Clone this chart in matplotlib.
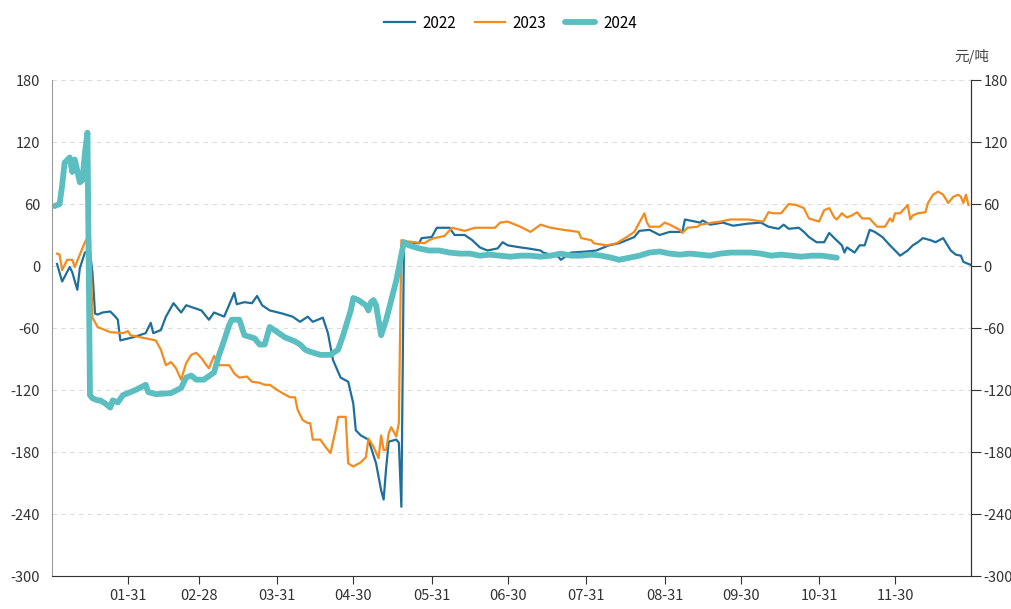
import matplotlib
matplotlib.use("Agg")
import matplotlib.pyplot as plt

plt.rcParams['font.family'] = ['Noto Sans CJK SC', 'DejaVu Sans']
plt.rcParams['axes.unicode_minus'] = False

# day of year -> spread value (元/吨)
day_2022 = [3, 5, 8, 9, 11, 12, 14, 16, 17, 18, 19, 21, 24, 26, 27, 28, 33, 38, 40, 41,
            44, 46, 49, 52, 54, 60, 63, 65, 69, 73, 74, 77, 80, 82, 84, 87, 92, 96, 99, 102,
            104, 108, 110, 112, 115, 118, 120, 121, 123, 126, 129, 131, 132, 133, 134, 137, 138, 139, 140, 141,
            146, 147, 151, 153, 158, 160, 164, 167, 170, 173, 177, 179, 181, 186, 189, 194, 195, 201, 202, 206,
            212, 216, 221, 225, 231, 233, 237, 241, 245, 250, 251, 255, 257, 258, 261, 266, 270, 276, 281, 284,
            288, 290, 292, 296, 298, 300, 303, 306, 308, 310, 313, 314, 315, 318, 320, 322, 324, 326, 329, 332,
            336, 339, 341, 343, 345, 348, 350, 353, 356, 358, 360, 361, 364]
val_2022 = [2, -15, -1, -6, -23, -2, 13, 14, -7, -46, -47, -45, -44, -49, -52, -72, -69, -65, -55, -65,
            -62, -49, -36, -45, -38, -43, -52, -45, -49, -26, -37, -35, -36, -29, -38, -43, -46, -49, -54, -49,
            -54, -50, -65, -91, -108, -112, -133, -159, -164, -168, -191, -217, -226, -195, -170, -168, -171, -233, 20, 23,
            22, 27, 28, 37, 37, 30, 30, 25, 18, 15, 17, 23, 20, 18, 17, 15, 13, 9, 6, 13,
            14, 15, 20, 22, 28, 34, 35, 30, 33, 33, 45, 43, 42, 44, 40, 42, 39, 41, 42, 38,
            36, 40, 36, 37, 33, 28, 23, 23, 32, 27, 20, 13, 18, 13, 20, 20, 35, 33, 28, 20,
            10, 15, 20, 23, 27, 25, 23, 27, 15, 11, 10, 4, 1]

day_2023 = [3, 4, 5, 7, 9, 10, 13, 14, 15, 16, 17, 19, 24, 29, 31, 32, 36, 42, 44, 46,
            48, 50, 52, 54, 56, 58, 60, 62, 63, 65, 67, 71, 73, 75, 78, 80, 83, 85, 87, 90,
            92, 95, 97, 98, 100, 102, 103, 104, 107, 109, 111, 113, 114, 117, 118, 120, 123, 125, 126, 128,
            130, 131, 132, 133, 134, 135, 137, 138, 139, 141, 144, 148, 150, 152, 156, 159, 164, 168, 172, 176,
            178, 181, 184, 186, 190, 194, 198, 203, 209, 210, 214, 215, 220, 224, 228, 231, 233, 235, 236, 237,
            241, 243, 245, 249, 250, 252, 256, 257, 262, 265, 269, 276, 282, 284, 286, 289, 292, 295, 298, 300,
            304, 306, 308, 310, 311, 313, 315, 317, 319, 321, 324, 325, 327, 330, 332, 333, 334, 336, 339, 340,
            341, 343, 346, 347, 349, 351, 353, 355, 357, 359, 360, 361, 362, 363]
val_2023 = [12, 11, -4, 6, 6, -1, 17, 23, 27, 28, -50, -59, -64, -65, -63, -67, -69, -72, -81, -96,
            -93, -99, -110, -94, -86, -84, -89, -96, -99, -87, -96, -96, -104, -108, -107, -112, -113, -115, -115, -120,
            -123, -127, -127, -139, -149, -152, -152, -168, -168, -175, -181, -159, -146, -146, -191, -194, -190, -185, -167, -175,
            -186, -164, -178, -178, -162, -156, -165, -152, 25, 24, 23, 22, 25, 27, 29, 37, 34, 37, 37, 37,
            42, 43, 40, 38, 33, 40, 37, 35, 33, 27, 25, 22, 20, 22, 28, 33, 42, 51, 42, 38,
            38, 42, 40, 35, 32, 37, 38, 40, 42, 43, 45, 45, 43, 52, 51, 51, 60, 59, 56, 46,
            43, 54, 56, 47, 45, 51, 47, 49, 52, 46, 46, 43, 38, 38, 46, 43, 51, 51, 59, 45,
            49, 51, 52, 61, 69, 72, 69, 61, 67, 69, 67, 61, 69, 59]

day_2024 = [2, 4, 5, 6, 8, 9, 10, 12, 13, 14, 15, 16, 17, 19, 20, 22, 24, 25, 27, 29,
            32, 34, 38, 39, 42, 48, 52, 54, 56, 58, 61, 65, 67, 69, 71, 72, 75, 77, 81, 83,
            85, 87, 90, 93, 97, 99, 101, 103, 107, 111, 114, 116, 119, 120, 122, 125, 126, 127, 128, 129,
            131, 133, 135, 137, 139, 140, 142, 146, 150, 154, 158, 162, 166, 170, 174, 178, 182, 186, 190, 194,
            198, 202, 206, 210, 214, 218, 222, 225, 229, 233, 237, 241, 245, 249, 253, 257, 261, 265, 269, 273,
            277, 281, 285, 289, 293, 297, 301, 305, 308, 311]
val_2024 = [58, 60, 78, 100, 105, 91, 103, 81, 83, 109, 129, -125, -128, -130, -130, -133, -137, -130, -132, -125,
            -122, -120, -115, -122, -124, -123, -118, -108, -106, -110, -110, -103, -86, -72, -57, -52, -52, -67, -70, -76,
            -76, -59, -64, -69, -73, -76, -81, -83, -86, -86, -81, -67, -43, -31, -33, -38, -43, -35, -33, -38,
            -67, -52, -33, -14, 11, 23, 20, 17, 15, 15, 13, 12, 12, 10, 11, 10, 9, 10, 10, 9,
            10, 12, 10, 10, 11, 10, 8, 6, 8, 10, 13, 14, 12, 11, 12, 11, 10, 12, 13, 13,
            13, 12, 10, 11, 10, 9, 10, 10, 9, 8]

tick_days = [31, 59, 90, 120, 151, 181, 212, 243, 273, 304, 334]
tick_labels = ["01-31", "02-28", "03-31", "04-30", "05-31", "06-30",
               "07-31", "08-31", "09-30", "10-31", "11-30"]
y_ticks = [-300, -240, -180, -120, -60, 0, 60, 120, 180]

fig = plt.figure(figsize=(10.11, 6.09), dpi=100)
ax = fig.add_axes([52 / 1011, 33 / 609, 919 / 1011, 496 / 609])

ax.plot(day_2022, val_2022, color="#1f6f9c", lw=1.6, label="2022", solid_joinstyle="round")
ax.plot(day_2023, val_2023, color="#f28c1e", lw=1.6, label="2023", solid_joinstyle="round")
ax.plot(day_2024, val_2024, color="#5bbec0", lw=4.2, label="2024", solid_joinstyle="round",
        solid_capstyle="round")

ax.set_xlim(1, 364)
ax.set_ylim(-300, 180)
ax.set_yticks(y_ticks)
ax.set_xticks(tick_days)
ax.set_xticklabels(tick_labels)
ax.grid(axis="y", color="#dcdcdc", linestyle=(0, (4, 4)), lw=0.8)
ax.set_axisbelow(True)

ax.tick_params(axis="y", length=0, pad=8.5, labelsize=10.5, labelcolor="#333333")
ax.tick_params(axis="x", length=6, width=0.8, color="#333333", pad=3, labelsize=10.5, labelcolor="#333333")
ax.spines["top"].set_visible(False)
ax.spines["left"].set_color("#999999")
ax.spines["bottom"].set_color("#333333")
ax.spines["right"].set_color("#333333")

ax2 = ax.twinx()
ax2.set_ylim(-300, 180)
ax2.set_yticks(y_ticks)
ax2.tick_params(axis="y", length=7, width=0.8, color="#333333", pad=2, labelsize=10.5, labelcolor="#333333")
for s in ["top", "left", "bottom"]:
    ax2.spines[s].set_visible(False)
ax2.spines["right"].set_color("#333333")

fig.text(972 / 1011, 1 - 57 / 609, "元/吨", ha="center", va="center", fontsize=10.5, color="#444444")

fig.legend(loc="center", bbox_to_anchor=(0.505, 1 - 23 / 609), ncol=3, frameon=False,
           fontsize=11, handlelength=2.0, columnspacing=1.2, handletextpad=0.5)

fig.savefig("out.png", dpi=100)
